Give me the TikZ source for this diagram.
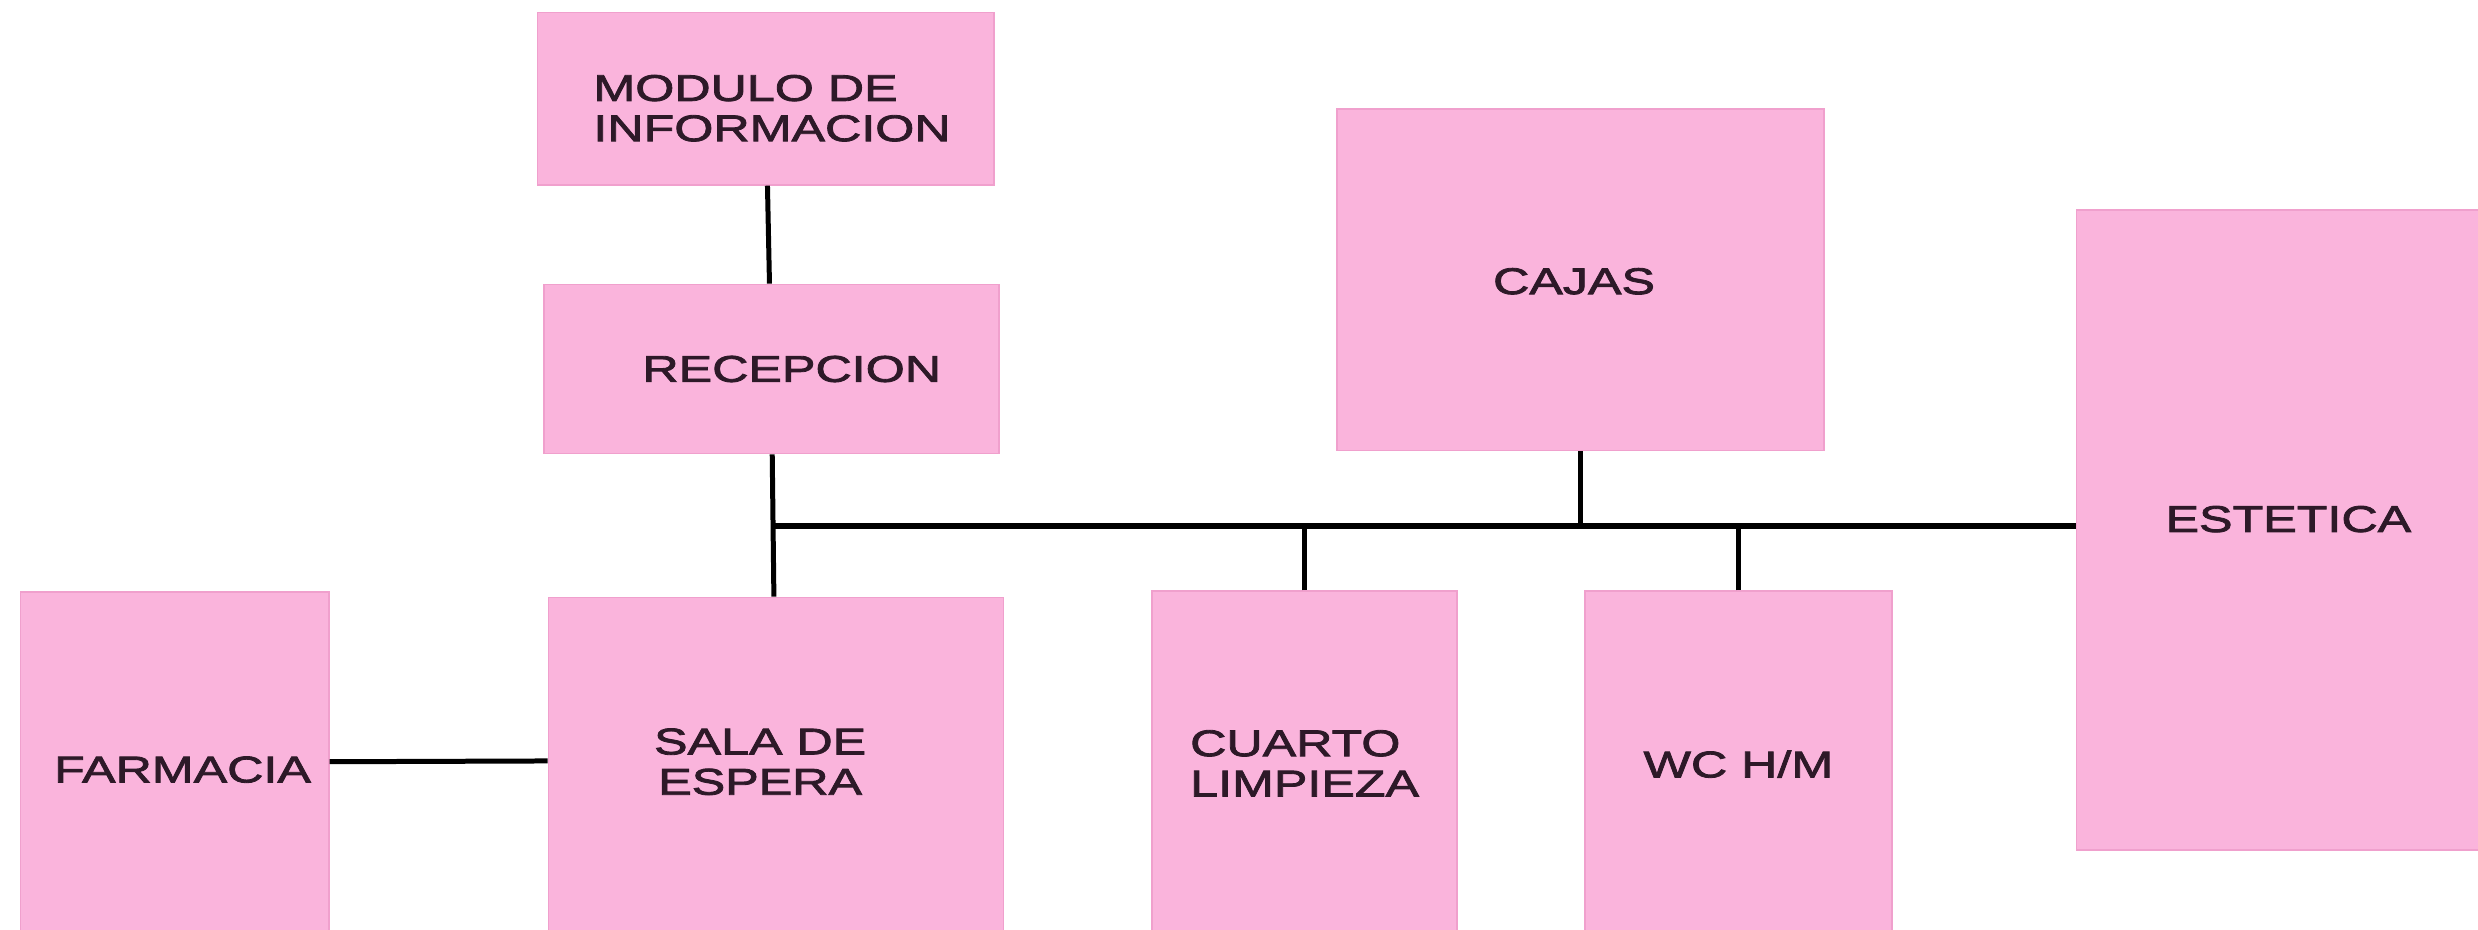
\documentclass[tikz,border=0pt]{standalone}
\usepackage{fontspec}
\setmainfont{Liberation Sans}[FakeStretch=1.35,FakeBold=2.2]
\usepackage{tikz}
\definecolor{roompink}{RGB}{250,180,220}
\definecolor{roomedge}{RGB}{240,160,205}
\definecolor{roomink}{RGB}{45,25,40}
\tikzset{
  room/.style     ={draw=roomedge,line width=0.6pt,fill=roompink,inner sep=0pt},
  roomtext/.style ={align=center,inner sep=0pt,text=roomink,font=\fontsize{13.4}{14.5}\selectfont},
  link/.style     ={line width=1.8pt,black},
  bus/.style      ={line width=2.3pt,black}
}
\begin{document}
\begin{tikzpicture}[x=0.02cm,y=-0.02cm]
    \useasboundingbox (0,0) rectangle (1568,588);
    \clip (0,0) rectangle (1568,588);
    \node[room,minimum width=5.78cm,minimum height=2.18cm,
          label={[roomtext,align=left,shift={(0.08cm,-0.12cm)}]center:MODULO DE\\INFORMACION}] (modulo) at (484.5,62.5) {};
    \node[room,minimum width=5.76cm,minimum height=2.14cm,
          label={[roomtext,shift={(0.26cm,0cm)}]center:RECEPCION}] (recepcion) at (488,233.5) {};
    \node[room,minimum width=6.16cm,minimum height=4.32cm,
          label={[roomtext,shift={(-0.08cm,-0.02cm)}]center:CAJAS}] (cajas) at (1000,177) {};
    \node[room,minimum width=5.36cm,minimum height=8.10cm,
          label={[roomtext,shift={(0cm,0.14cm)}]center:ESTETICA}] (estetica) at (1448,335.5) {};
    \node[room,minimum width=3.90cm,minimum height=4.50cm,
          label={[roomtext,shift={(0.1cm,0cm)}]center:FARMACIA}] (farmacia) at (110.5,487) {};
    \node[room,minimum width=5.76cm,minimum height=4.44cm,
          label={[roomtext,shift={(-0.2cm,0.14cm)}]center:SALA DE\\ESPERA}] (sala) at (491,489) {};
    \node[room,minimum width=3.86cm,minimum height=4.52cm,
          label={[roomtext,align=left,shift={(0cm,0.08cm)}]center:CUARTO\\LIMPIEZA}] (cuarto) at (825.5,487) {};
    \node[room,minimum width=3.88cm,minimum height=4.52cm,
          label={[roomtext,shift={(0cm,0.07cm)}]center:WC H/M}] (wc) at (1100,487) {};
    \coordinate (hall) at (489,333);
    \draw[link] (modulo) -- (recepcion);
    \draw[link] (recepcion) -- (sala);
    \draw[bus]  (hall) -- (hall -| estetica.west);
    \draw[link] (cajas) -- (cajas |- hall);
    \draw[link] (cuarto) -- (cuarto |- hall);
    \draw[link] (wc) -- (wc |- hall);
    \draw[link] ([yshift=1mm]farmacia.east) -- ([yshift=1.5mm]sala.west);
  \end{tikzpicture}
\end{document}
